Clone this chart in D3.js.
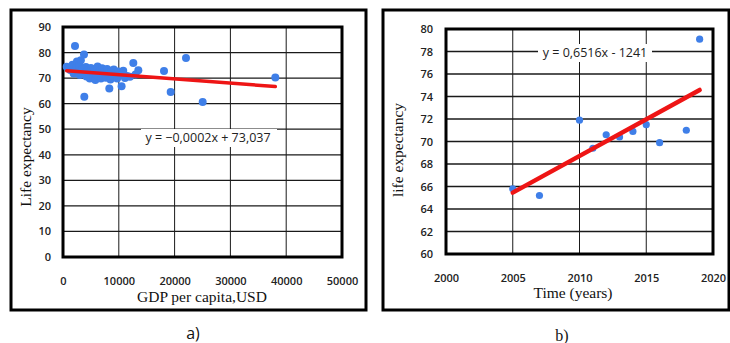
<!DOCTYPE html>
<html>
<head>
<meta charset="utf-8">
<script src="https://cdn.jsdelivr.net/npm/d3@7"></script>
<style>
  html, body { margin: 0; padding: 0; background: #fff; }
  svg { display: block; }
  .tick text { font-family: "Open Sans", sans-serif; font-size: 11px; font-weight: 600; fill: #222; }
  .title { font-family: "Liberation Serif", serif; font-size: 15.5px; fill: #111; }
  .eq { font-family: "Open Sans", sans-serif; font-size: 12.5px; fill: #222; }
</style>
</head>
<body>
<svg id="chart" width="730" height="343"></svg>
<script>
// Panel a: GDP per capita (USD) vs life expectancy, one point per country
const gdpPerCapita = [660, 1300, 1700, 1900, 2150, 2300, 2500, 2700, 2900, 3000, 3200, 3400, 3760, 3820, 3900,
  4100, 4200, 4400, 4600, 4800, 5000, 5200, 5400, 5600, 5800, 6000, 6200, 6400, 6600, 6800, 7000, 7200,
  7400, 7700, 7900, 8100, 8300, 8500, 8700, 8900, 9100, 9400, 9700, 9900, 10200, 10500, 10800, 11100,
  11500, 12000, 12600, 13000, 13500, 18100, 19300, 22040, 25030, 38050];
const lifeExpCountry = [74.4, 73.2, 75.2, 71.8, 82.6, 73.8, 76.5, 72.5, 74.9, 71.2, 77.0, 73.5, 79.2, 62.7, 72.0,
  74.3, 70.6, 73.0, 71.8, 69.8, 74.0, 72.4, 70.2, 73.3, 69.3, 71.5, 74.5, 70.5, 72.7, 69.8, 73.9, 71.0,
  72.2, 70.1, 73.6, 71.6, 65.9, 69.5, 72.9, 70.8, 73.4, 71.9, 69.8, 72.6, 71.2, 66.8, 72.9, 70.0,
  70.8, 70.5, 75.9, 71.4, 73.1, 72.8, 64.6, 77.9, 60.7, 70.2];
const trendA = { slope: -0.000167, intercept: 73.037 };
const xTicksA = [0, 10000, 20000, 30000, 40000, 50000];
const yTicksA = [0, 10, 20, 30, 40, 50, 60, 70, 80, 90];

// Panel b: life expectancy over time
const years = [2005, 2007, 2010, 2011, 2012, 2013, 2014, 2015, 2016, 2018, 2019];
const lifeExpYear = [65.8, 65.2, 71.9, 69.4, 70.6, 70.4, 70.9, 71.5, 69.9, 71.0, 79.1];
const trendB = { slope: 0.6516, intercept: -1241 };
const xTicksB = [2000, 2005, 2010, 2015, 2020];
const yTicksB = [60, 62, 64, 66, 68, 70, 72, 74, 76, 78, 80];

const svg = d3.select("#chart");
const RED = "#ee1515", BLUE = "#3f7fe8";

function commaNum(v, digits) {
  return d3.format("." + digits + "f")(v).replace(".", ",");
}

function drawPanel(opt) {
  const g = svg.append("g");
  const plot = opt.plot;
  const x = d3.scaleLinear().domain(opt.xDomain).range([plot[0], plot[2]]);
  const y = d3.scaleLinear().domain(opt.yDomain).range([plot[3], plot[1]]);

  // outer frame
  g.append("rect").attr("x", opt.frame[0]).attr("y", opt.frame[1])
    .attr("width", opt.frame[2] - opt.frame[0]).attr("height", opt.frame[3] - opt.frame[1])
    .attr("fill", "none").attr("stroke", "#000").attr("stroke-width", 3);

  // x tick labels
  const lx = g.append("g").attr("transform", `translate(0,${plot[3] + 20})`)
    .call(d3.axisBottom(x).tickValues(opt.xTicks).tickSize(0).tickPadding(0).tickFormat(d3.format("d")));
  lx.select(".domain").remove();

  // grid
  const grid = g.append("g").attr("stroke", "#1a1a1a");
  grid.selectAll("line.vx").data(opt.xTicks).join("line").attr("class", "vx")
    .attr("x1", d => x(d)).attr("x2", d => x(d)).attr("y1", plot[1]).attr("y2", plot[3]).attr("stroke-width", 1);
  grid.selectAll("line.hy").data(opt.yTicks).join("line").attr("class", "hy")
    .attr("y1", d => y(d)).attr("y2", d => y(d)).attr("x1", plot[0]).attr("x2", plot[2]).attr("stroke-width", 1.3);

  // plot border
  g.append("rect").attr("x", plot[0]).attr("y", plot[1]).attr("width", plot[2] - plot[0]).attr("height", plot[3] - plot[1])
    .attr("fill", "none").attr("stroke", "#000").attr("stroke-width", 3);

  // equation label on a white box
  g.append("rect").attr("x", opt.eqBox[0]).attr("y", opt.eqBox[1])
    .attr("width", opt.eqBox[2]).attr("height", opt.eqBox[3]).attr("fill", "#fff");
  g.append("text").attr("class", "eq").attr("x", opt.eqPos[0]).attr("y", opt.eqPos[1])
    .attr("text-anchor", "middle").attr("dy", "0.35em").text(opt.eqLabel);

  // points
  g.append("g").selectAll("circle").data(opt.xs.map((v, i) => [v, opt.ys[i]])).join("circle")
    .attr("cx", d => x(d[0])).attr("cy", d => y(d[1])).attr("r", opt.r).attr("fill", BLUE);

  // trend line over the data range
  const x0 = d3.min(opt.xs), x1 = d3.max(opt.xs);
  const f = v => opt.trend.slope * v + opt.trend.intercept;
  g.append("line").attr("x1", x(x0)).attr("y1", y(f(x0))).attr("x2", x(x1)).attr("y2", y(f(x1)))
    .attr("stroke", RED).attr("stroke-width", opt.lw).attr("stroke-linecap", "round");

  // y tick labels
  const ly = g.append("g").attr("transform", `translate(${plot[0] - opt.yLabelGap},0)`)
    .call(d3.axisLeft(y).tickValues(opt.yTicks).tickSize(0).tickPadding(0).tickFormat(d3.format("d")));
  ly.select(".domain").remove();

  // axis titles and panel tag
  g.append("text").attr("class", "title").attr("x", opt.xTitlePos[0]).attr("y", opt.xTitlePos[1])
    .attr("text-anchor", "middle").text(opt.xTitle);
  g.append("text").attr("class", "title")
    .attr("transform", `translate(${opt.yTitlePos[0]},${opt.yTitlePos[1]}) rotate(-90)`)
    .attr("text-anchor", "middle").text(opt.yTitle);
  g.append("text").attr("x", opt.tagPos[0]).attr("y", opt.tagPos[1]).attr("text-anchor", "middle")
    .attr("font-family", opt.tagFont).attr("font-size", 16).attr("fill", "#111").text(opt.tag);
}

drawPanel({
  frame: [11, 10, 366, 310], plot: [63, 27, 342, 257],
  xDomain: [0, 50000], yDomain: [0, 90], xTicks: xTicksA, yTicks: yTicksA, yLabelGap: 12,
  xs: gdpPerCapita, ys: lifeExpCountry, r: 4, lw: 3.5, trend: trendA,
  eqLabel: "y = " + commaNum(trendA.slope, 4) + "x + " + commaNum(trendA.intercept, 3),
  eqPos: [208, 138], eqBox: [141, 129, 136, 18],
  xTitle: "GDP per capita,USD", xTitlePos: [202, 302],
  yTitle: "Life expectancy", yTitlePos: [31, 157],
  tag: "a)", tagPos: [193, 339], tagFont: "Open Sans, sans-serif"
});

drawPanel({
  frame: [383, 10, 729, 310], plot: [446, 29, 713, 254],
  xDomain: [2000, 2020], yDomain: [60, 80], xTicks: xTicksB, yTicks: yTicksB, yLabelGap: 13,
  xs: years, ys: lifeExpYear, r: 3.6, lw: 4.5, trend: trendB,
  eqLabel: "y = " + commaNum(trendB.slope, 4) + "x - " + Math.abs(trendB.intercept),
  eqPos: [595, 53], eqBox: [538, 44, 114, 18],
  xTitle: "Time (years)", xTitlePos: [573, 298],
  yTitle: "life expectancy", yTitlePos: [403, 150],
  tag: "b)", tagPos: [562, 341], tagFont: "Liberation Serif, serif"
});
</script>
</body>
</html>
